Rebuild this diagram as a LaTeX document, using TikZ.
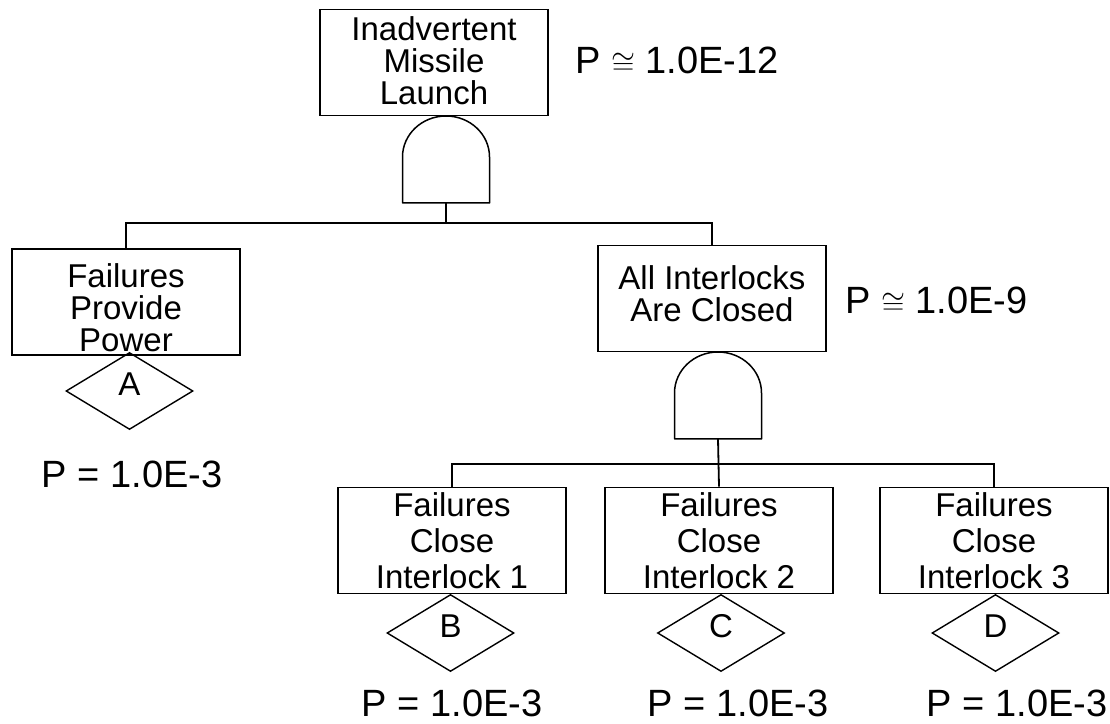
\documentclass[tikz,border=0pt]{standalone}
\usepackage{fontspec}
\setmainfont{Liberation Sans}
\usetikzlibrary{shapes.geometric}
\begin{document}
\begin{tikzpicture}[x=1pt,y=1pt,
  event/.style={draw, line width=1.8pt, minimum width=228pt, minimum height=106pt,
    inner sep=0pt},
  eventtext/.style={inner sep=0pt, align=center, font=\fontsize{33}{32}\selectfont},
  leaftext/.style={eventtext, font=\fontsize{33}{36}\selectfont},
  undeveloped/.style={diamond, draw, line width=1.4pt, minimum width=127pt,
    minimum height=77pt, inner sep=0pt, font=\fontsize{33}{33}\selectfont,
    text height=16pt, text depth=7pt},
  plabel/.style={inner sep=0pt, font=\fontsize{38}{38}\selectfont},
  bus/.style={line width=2.5pt},
  stem/.style={line width=1.8pt},
  andgate/.pic={
    \draw[line width=1.5pt, line join=round] (-43.5,0) -- (-43.5,46)
      arc[start angle=180, end angle=0, x radius=43.5, y radius=41]
      -- (43.5,0) -- cycle;
    \coordinate (-out) at (0,0);
  }]
\useasboundingbox (0,0) rectangle (1110,723);
\newcommand{\approxeq}{\resizebox{24pt}{!}{$\cong$}}

% top event and its AND gate
\node[event] (top) at (434,660.5) {};
\node[eventtext] (topt) at ([yshift=2pt]top.center) {Inadvertent\\Missile\\Launch};
\pic (g1) at (446,520) {andgate};
\node[plabel, anchor=base west] (p12) at (575,649) {P \approxeq{} 1.0E-12};

% second level
\node[event] (L) at (126,421) {};
\node[eventtext] (Lt) at ([yshift=-6pt]L.center) {Failures\\Provide\\Power};
\node[event] (R) at (712,424.5) {};
\node[eventtext] (Rt) at ([yshift=5pt]R.center) {All Interlocks\\Are Closed};
\node[undeveloped] (A) at (129.5,332) {A};
\node[plabel, anchor=base] (pA) at (132,235) {P = 1.0E-3};
\node[plabel, anchor=base west] (p9) at (845,409) {P \approxeq{} 1.0E-9};
\pic (g2) at (718,284) {andgate};

% interlock failures
\node[event] (B) at (452,182.5) {};
\node[event] (C) at (719,182.5) {};
\node[event] (D) at (994,182.5) {};
\node[leaftext] (Bt) at (B.center) {Failures\\Close\\Interlock 1};
\node[leaftext] (Ct) at (C.center) {Failures\\Close\\Interlock 2};
\node[leaftext] (Dt) at (D.center) {Failures\\Close\\Interlock 3};
\node[undeveloped] (dB) at (450.5,90) {B};
\node[undeveloped] (dC) at (721,90) {C};
\node[undeveloped] (dD) at (995.5,90) {D};
\node[plabel, anchor=base] (pB) at (452,7) {P = 1.0E-3};
\node[plabel, anchor=base] (pC) at (738,7) {P = 1.0E-3};
\node[plabel, anchor=base] (pD) at (1017,7) {P = 1.0E-3};

% connectors
\coordinate (bus1) at (446,500);
\draw[bus] (L.north) |- (bus1) -| (R.north);
\draw[stem] (g1-out) -- (bus1);
\coordinate (bus2) at (719,259);
\draw[bus] (B.north) |- (bus2) -| (D.north);
\draw[stem] (g2-out) -- (C.north);
\end{tikzpicture}
\end{document}
